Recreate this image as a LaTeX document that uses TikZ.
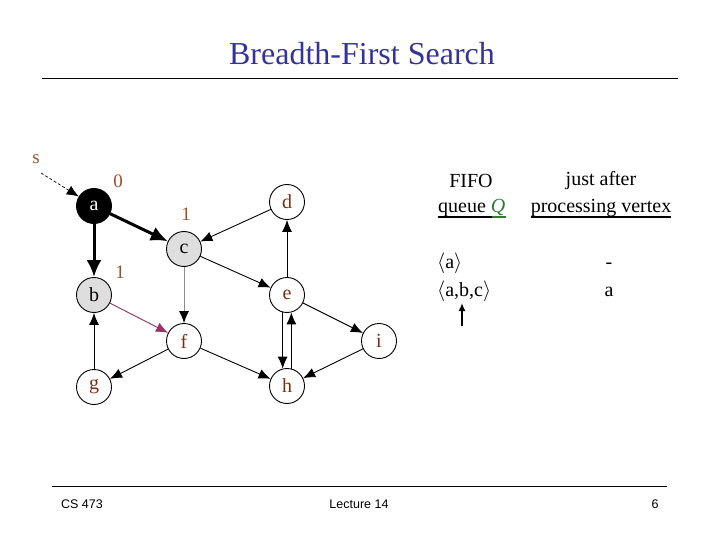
\documentclass[tikz,border=0pt]{standalone}
\usepackage{fontspec}
\setmainfont{Liberation Serif}
\newfontfamily\footfont{Liberation Sans}
\usetikzlibrary{arrows.meta}
\definecolor{titleblue}{HTML}{333399}
\definecolor{brownlbl}{HTML}{99502A}
\definecolor{nodebrown}{HTML}{7A2E12}
\definecolor{qgreen}{HTML}{2E7D2E}
\definecolor{purp}{HTML}{993366}
\tikzset{
  vert/.style={circle,draw,line width=0.9pt,minimum size=35pt,inner sep=0pt,font=\fontsize{20}{20}\selectfont,text=nodebrown,fill=white},
  grayv/.style={vert,fill=black!13,text=black},
  blackv/.style={vert,fill=black,text=white},
  dist/.style={font=\fontsize{19}{19}\selectfont,text=brownlbl},
  edge/.style={-{Latex[length=12pt,width=10pt]},line width=0.9pt},
  thickedge/.style={-{Latex[length=17pt,width=15pt]},line width=3pt},
  tabtxt/.style={font=\fontsize{20}{20}\selectfont,inner sep=0pt},
  foot/.style={font=\footfont\fontsize{12.5}{13}\selectfont,inner sep=0pt}
}
\begin{document}
\begin{tikzpicture}[x=1pt,y=-1pt]
\useasboundingbox (0,0) rectangle (720,540);
% title
\node[font=\fontsize{32}{32}\selectfont,text=titleblue,inner sep=0pt] (title) at (362,54) {Breadth-First Search};
\draw[line width=0.9pt] (42,78) -- (678,78);
% vertices
\node[blackv] (a) at (94,206) {a};
\node[grayv] (b) at (94,295) {b};
\node[grayv] (c) at (184,249) {c};
\node[vert] (d) at (287,202) {d};
\node[vert] (e) at (287,295) {e};
\node[vert] (f) at (184,341) {f};
\node[vert] (g) at (94,387) {g};
\node[vert] (h) at (287,386) {h};
\node[vert] (i) at (379,341) {i};
% labels
\node[dist] (s) at (36,159) {s};
\node[dist] (la) at (118,181) {0};
\node[dist] (lc) at (186,214) {1};
\node[dist] (lb) at (120,272) {1};
\coordinate (sstart) at (41,173);
% edges
\draw[edge,dash pattern=on 3pt off 2pt,line width=0.7pt] (sstart) -- (a);
\draw[thickedge] (a) -- (b);
\draw[thickedge] (a) -- (c);
\draw[edge] (d) -- (c);
\draw[edge] (c) -- (e);
\draw[edge,draw=black!45,-{Latex[length=12pt,width=10pt,fill=black,color=black]}] (c) -- (f);
\draw[edge,draw=purp,fill=purp] (b) -- (f);
\draw[edge] (f) -- (g);
\draw[edge] (g) -- (b);
\draw[edge] (f) -- (h);
\draw[edge] (e) -- (d);
\draw[edge] (e.256) -- (h.104);
\draw[edge] (h.76) -- (e.284);
\draw[edge] (e) -- (i);
\draw[edge] (i) -- (h);
% table
\node[tabtxt] (fifo) at (471,181) {FIFO};
\node[tabtxt,anchor=base west] (queue) at (438,213) {queue \textcolor{qgreen}{\textit{Q}}};
\draw[line width=1.3pt] (438,217) -- (492,217);
\draw[line width=1.3pt,qgreen] (492,217) -- (506,217);
\node[tabtxt] (just) at (601,181) {just after};
\node[tabtxt,anchor=base] (proc) at (601,213) {processing vertex};
\draw[line width=1.3pt] (531,217) -- (671,217);
\node[tabtxt,anchor=base west] (q1) at (437,268) {$\langle$a$\rangle$};
\node[tabtxt,anchor=base west] (q2) at (437,296) {$\langle$a,b,c$\rangle$};
\node[tabtxt,anchor=base] (p1) at (609,268) {-};
\node[tabtxt,anchor=base] (p2) at (609,296) {a};
\coordinate (ptrbot) at (462,326);
\coordinate (ptrtop) at (462,303);
\draw[-{Latex[length=8pt,width=7pt]},line width=1.6pt] (ptrbot) -- (ptrtop);
% footer
\draw[line width=0.9pt] (52,486) -- (667,486);
\node[foot] (cs) at (82,504) {CS 473};
\node[foot] (lec) at (359,504) {Lecture 14};
\node[foot] (pg) at (655,504) {6};
\end{tikzpicture}
\end{document}
